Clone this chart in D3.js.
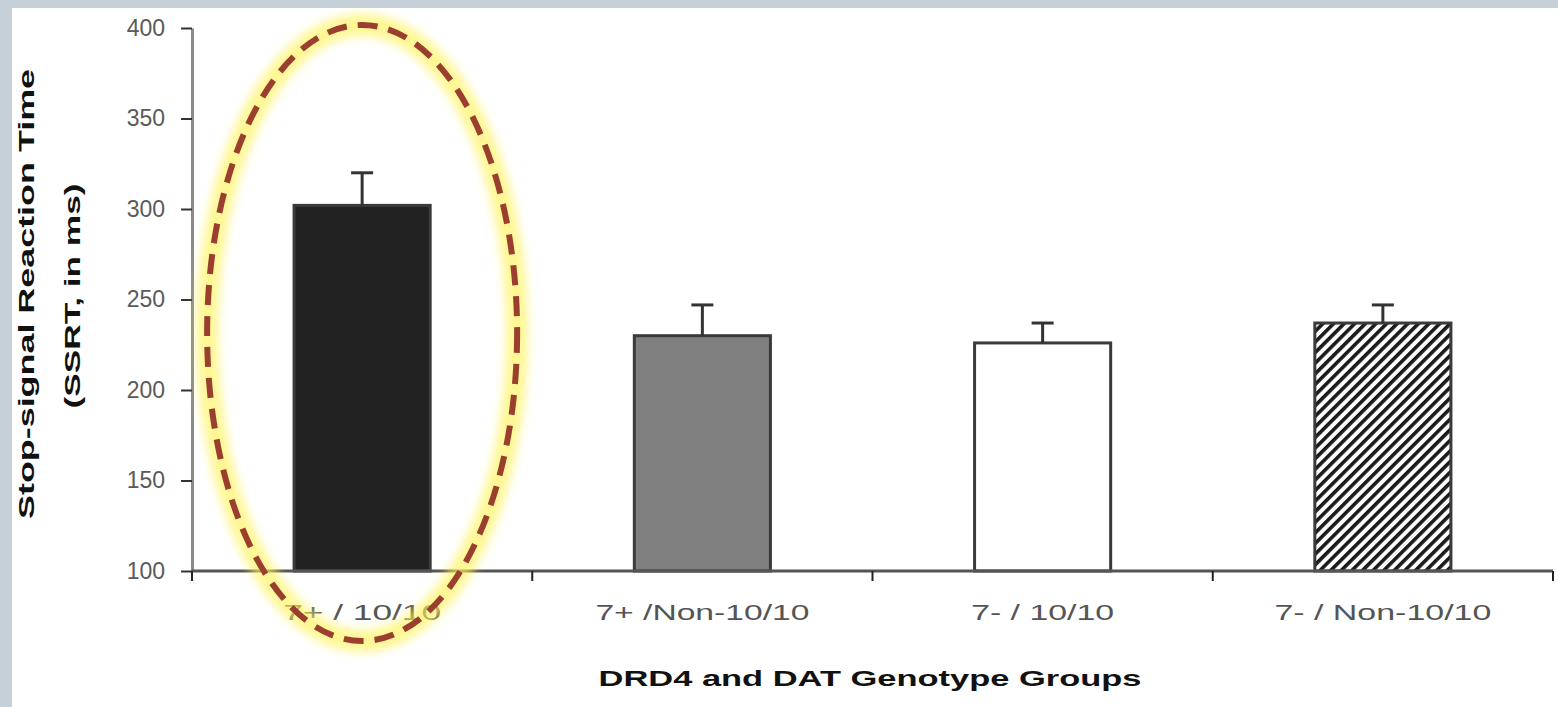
<!DOCTYPE html>
<html>
<head>
<meta charset="utf-8">
<script src="https://cdn.jsdelivr.net/npm/d3@7"></script>
<style>
  html, body { margin: 0; padding: 0; background: #c5d0d8; }
  svg { display: block; }
  text { font-family: "Liberation Sans", Arial, sans-serif; }
</style>
</head>
<body>
<div id="root"></div>
<script>
const groups = ["7+ / 10/10", "7+ /Non-10/10", "7- / 10/10", "7- / Non-10/10"];
const ssrt = [302, 230, 226, 237];
const errors = [18, 17, 11, 10];
const yTicks = [100, 150, 200, 250, 300, 350, 400];
const fills = ["#222222", "#808080", "#ffffff", "url(#hatch)"];
const labelWidths = [158, 214, 143, 217];

const width = 1558;
const height = 707;

const svg = d3
  .select("#root")
  .append("svg")
  .attr("width", width)
  .attr("height", height);

// hatch pattern for the last bar
const defs = svg.append("defs");
defs
  .append("pattern")
  .attr("id", "hatch")
  .attr("patternUnits", "userSpaceOnUse")
  .attr("width", 7.5)
  .attr("height", 7.5)
  .attr("patternTransform", "rotate(45)")
  .call((p) => {
    p.append("rect").attr("width", 7.5).attr("height", 7.5).attr("fill", "#fff");
    p.append("rect").attr("width", 3.6).attr("height", 7.5).attr("fill", "#1a1a1a");
  });

const glow = defs.append("filter").attr("id", "glow").attr("x", "-20%").attr("y", "-20%").attr("width", "140%").attr("height", "140%");
glow.append("feGaussianBlur").attr("stdDeviation", 5);

// white panel
svg
  .append("rect")
  .attr("x", 12)
  .attr("y", 8)
  .attr("width", width - 12)
  .attr("height", height - 8)
  .attr("fill", "#ffffff");

const x = d3
  .scaleBand()
  .domain(groups)
  .range([192, 1553])
  .paddingInner(0.6)
  .paddingOuter(0.3);

const y = d3.scaleLinear().domain([100, 400]).range([571, 28]);

// y axis
const yAxis = svg
  .append("g")
  .attr("transform", "translate(192,0)")
  .call(d3.axisLeft(y).tickValues(yTicks).tickSize(11).tickPadding(16).tickSizeOuter(0));
yAxis.select(".domain").attr("stroke", "#8a8a8a").attr("stroke-width", 3);
yAxis.selectAll(".tick line").attr("stroke", "#333").attr("stroke-width", 2);
yAxis
  .selectAll(".tick text")
  .attr("fill", "#5a5a5a")
  .attr("font-size", 23);

// bars
const bars = svg.append("g");
bars
  .selectAll("rect")
  .data(groups)
  .join("rect")
  .attr("x", (d) => x(d))
  .attr("y", (d, i) => y(ssrt[i]))
  .attr("width", x.bandwidth())
  .attr("height", (d, i) => y(100) - y(ssrt[i]))
  .attr("fill", (d, i) => fills[i])
  .attr("stroke", "#3a3a3a")
  .attr("stroke-width", 3);

// error bars (upper only)
const err = svg.append("g").attr("stroke", "#333").attr("stroke-width", 3);
err
  .selectAll("line.v")
  .data(groups)
  .join("line")
  .attr("class", "v")
  .attr("x1", (d) => x(d) + x.bandwidth() / 2)
  .attr("x2", (d) => x(d) + x.bandwidth() / 2)
  .attr("y1", (d, i) => y(ssrt[i]))
  .attr("y2", (d, i) => y(ssrt[i] + errors[i]));
err
  .selectAll("line.cap")
  .data(groups)
  .join("line")
  .attr("class", "cap")
  .attr("x1", (d) => x(d) + x.bandwidth() / 2 - 11)
  .attr("x2", (d) => x(d) + x.bandwidth() / 2 + 11)
  .attr("y1", (d, i) => y(ssrt[i] + errors[i]))
  .attr("y2", (d, i) => y(ssrt[i] + errors[i]));

// x axis: ticks at category boundaries
const boundaries = groups.map((d) => x(d) - (x.step() - x.bandwidth()) / 2).concat([1553]);
const xAxis = svg.append("g");
xAxis
  .append("line")
  .attr("x1", 192)
  .attr("x2", 1553)
  .attr("y1", y(100))
  .attr("y2", y(100))
  .attr("stroke", "#555")
  .attr("stroke-width", 3);
xAxis
  .selectAll("line.tick")
  .data(boundaries)
  .join("line")
  .attr("class", "tick")
  .attr("x1", (d) => d)
  .attr("x2", (d) => d)
  .attr("y1", y(100))
  .attr("y2", y(100) + 10)
  .attr("stroke", "#222")
  .attr("stroke-width", 2);
xAxis
  .selectAll("text")
  .data(groups)
  .join("text")
  .attr("x", (d) => x(d) + x.bandwidth() / 2)
  .attr("y", 620)
  .attr("text-anchor", "middle")
  .attr("fill", "#555")
  .attr("font-size", 22)
  .attr("textLength", (d, i) => labelWidths[i])
  .attr("lengthAdjust", "spacingAndGlyphs")
  .text((d) => d);

// axis titles
svg
  .append("text")
  .attr("x", 870)
  .attr("y", 686)
  .attr("text-anchor", "middle")
  .attr("font-size", 22)
  .attr("font-weight", "bold")
  .attr("fill", "#111")
  .attr("textLength", 543)
  .attr("lengthAdjust", "spacingAndGlyphs")
  .text("DRD4 and DAT Genotype Groups");

svg
  .append("text")
  .attr("transform", "translate(34,294) rotate(-90)")
  .attr("text-anchor", "middle")
  .attr("font-size", 22)
  .attr("font-weight", "bold")
  .attr("fill", "#111")
  .attr("textLength", 450)
  .attr("lengthAdjust", "spacingAndGlyphs")
  .text("Stop-signal Reaction Time");

svg
  .append("text")
  .attr("transform", "translate(80,296) rotate(-90)")
  .attr("text-anchor", "middle")
  .attr("font-size", 22)
  .attr("font-weight", "bold")
  .attr("fill", "#111")
  .attr("textLength", 225)
  .attr("lengthAdjust", "spacingAndGlyphs")
  .text("(SSRT, in ms)");

// highlight ellipse around the first group
const cx = x(groups[0]) + x.bandwidth() / 2;
svg
  .append("ellipse")
  .attr("cx", cx)
  .attr("cy", 333)
  .attr("rx", 155)
  .attr("ry", 308)
  .attr("fill", "none")
  .attr("stroke", "#fff35a")
  .attr("stroke-width", 22)
  .attr("opacity", 0.65)
  .attr("filter", "url(#glow)");
svg
  .append("ellipse")
  .attr("cx", cx)
  .attr("cy", 333)
  .attr("rx", 155)
  .attr("ry", 308)
  .attr("fill", "none")
  .attr("stroke", "#9a3f2f")
  .attr("stroke-width", 6)
  .attr("stroke-dasharray", "20 11");
</script>
</body>
</html>
